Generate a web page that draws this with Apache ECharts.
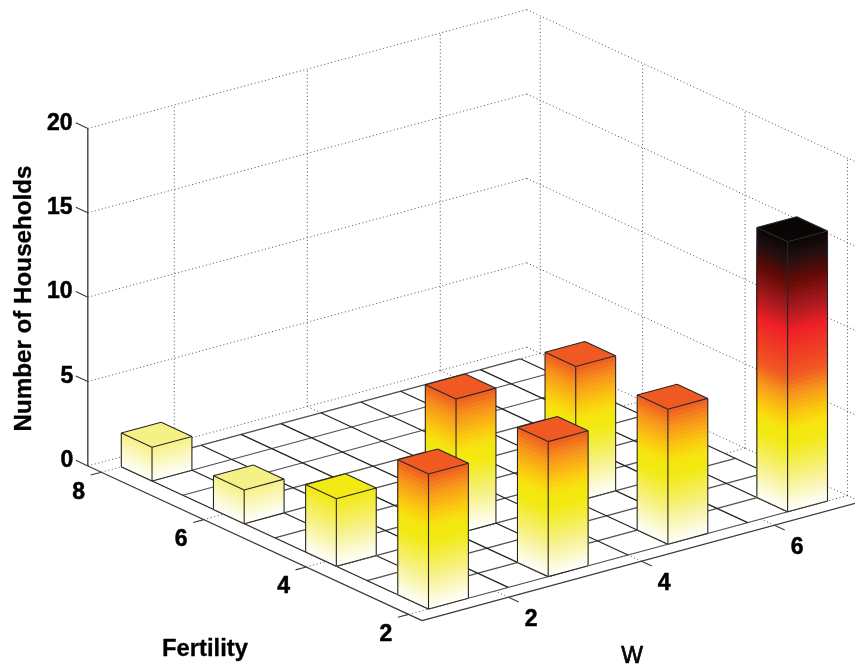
<!DOCTYPE html>
<html>
<head>
<meta charset="utf-8">
<style>html,body{margin:0;padding:0;background:#fff}#c{width:855px;height:668px;filter:blur(0.35px)}</style>
<script src="https://cdn.jsdelivr.net/npm/echarts@6/dist/echarts.min.js"></script>
</head>
<body>
<div id="c"></div>
<script>
// ---- data ----
const barW          = [1.3, 1.3, 1.3, 1.3, 3.1, 4.9, 6.7, 3.1, 4.9];
const barFertility  = [7.7, 5.9, 4.1, 2.3, 2.3, 2.3, 2.3, 4.1, 4.1];
const barHouseholds = [2, 2, 4, 8, 8, 8, 16, 8, 8];
const wTicks = [2, 4, 6];
const fertilityTicks = [2, 4, 6, 8];
const countTicks = [0, 5, 10, 15, 20];
const wLimits = [0.70, 7.30];
const fertilityLimits = [1.736, 8.264];
const countLimits = [0, 20];
const binEdgesW = [1, 1.6, 2.2, 2.8, 3.4, 4, 4.6, 5.2, 5.8, 6.4, 7];
const binEdgesFertility = [2, 2.6, 3.2, 3.8, 4.4, 5, 5.6, 6.2, 6.8, 7.4, 8];
const binWidth = 0.6;
// colormap: count -> colour
const cmapAt = [0, 2, 4, 4.8, 5.7, 7, 8, 10.7, 12, 13.7, 15, 16];
const cmapCol = ['#ffffff', '#f6f186', '#f2ea12', '#f5e610', '#fcc810', '#f7921c', '#f05a22', '#ee2026', '#a81a1e', '#620a06', '#221010', '#0a0605'];

// ---- view: orthographic 3-D projection onto the screen plane ----
const view = {ox: 428.5, oy: 609, wx: 66.5, wy: -18, fx: -51.2, fy: -23.7, zy: -16.875};
function project(w, f, z) {
  const dw = w - 1, df = f - 2;
  return [view.ox + view.wx * dw + view.fx * df, view.oy + view.wy * dw + view.fy * df + view.zy * z];
}
function hex(c) { return [1, 3, 5].map(i => parseInt(c.substr(i, 2), 16)); }
function colorOf(z) {
  for (let i = 1; i < cmapAt.length; i++) {
    if (z <= cmapAt[i]) {
      const t = (z - cmapAt[i - 1]) / (cmapAt[i] - cmapAt[i - 1]);
      const a = hex(cmapCol[i - 1]), b = hex(cmapCol[i]);
      return 'rgb(' + a.map((v, k) => Math.round(v + (b[k] - v) * t)).join(',') + ')';
    }
  }
  return cmapCol[cmapCol.length - 1];
}
const DOT = '#505050', GRID_W = '#222222', GRID_F = '#505050', AXIS = '#3a3a3a';
const line = (a, b, stroke, width, dash) => ({type: 'line', silent: true,
  shape: {x1: a[0], y1: a[1], x2: b[0], y2: b[1]},
  style: {stroke, lineWidth: width, lineDash: dash || null, fill: null}});
const poly = (pts, fill, stroke) => ({type: 'polygon', silent: true, shape: {points: pts},
  style: {fill, stroke: stroke || null, lineWidth: stroke ? 1 : 0, lineJoin: 'round'}});
const FONT = '"Liberation Sans", Arial, sans-serif';
const label = (x, y, text, size, weight, rot, sw) => ({type: 'text', silent: true, x, y, rotation: rot || 0,
  style: {text: String(text), x: 0, y: 0, fontFamily: FONT, fontSize: size, fontWeight: weight,
    fill: '#000', stroke: '#000', lineWidth: sw === undefined ? 0.5 : sw, align: 'center', verticalAlign: 'middle'}});

function renderScene(params, api) {
  const P = (w, f, z) => api.coord(project(w, f, z));
  const [w0, w1] = wLimits, [f0, f1] = fertilityLimits, [z0, z1] = countLimits;
  const kids = [];
  const dash = [1, 2.6];
  countTicks.forEach(z => {
    kids.push(line(P(w0, f1, z), P(w1, f1, z), DOT, 1, dash));
    kids.push(line(P(w1, f1, z), P(w1, f0, z), DOT, 1, dash));
  });
  wTicks.forEach(w => {
    kids.push(line(P(w, f1, z0), P(w, f1, z1), DOT, 1, dash));
    kids.push(line(P(w, f0, z0), P(w, f1, z0), DOT, 1, dash));
  });
  fertilityTicks.forEach(f => {
    kids.push(line(P(w1, f, z0), P(w1, f, z1), DOT, 1, dash));
    kids.push(line(P(w0, f, z0), P(w1, f, z0), DOT, 1, dash));
  });
  // floor mesh
  const wa = binEdgesW[0], wb = binEdgesW[binEdgesW.length - 1];
  const fa = binEdgesFertility[0], fb = binEdgesFertility[binEdgesFertility.length - 1];
  kids.push(poly([P(wa, fa, 0), P(wb, fa, 0), P(wb, fb, 0), P(wa, fb, 0)], '#ffffff'));
  binEdgesFertility.forEach(f => kids.push(line(P(wa, f, 0), P(wb, f, 0), GRID_F, 1.25)));
  binEdgesW.forEach(w => kids.push(line(P(w, fa, 0), P(w, fb, 0), GRID_W, 1.25)));
  // axes
  kids.push(line(P(w0, f1, z0), P(w0, f1, z1), '#222222', 1.2));
  kids.push(line(P(w0, f1, z0), P(w0, f0, z0), AXIS, 1.25));
  kids.push(line(P(w0, f0, z0), P(w1, f0, z0), AXIS, 1.25));
  countTicks.forEach(z => {
    kids.push(line(P(w0, f1, z), P(w0, f1 + 0.235, z), AXIS, 1.1));
    const p = P(w0, f1, z);
    kids.push(label(p[0] - 21 - (String(z).length > 1 ? 7 : 0), p[1] - 5.2, z, 23, 'bold'));
  });
  fertilityTicks.forEach(f => {
    kids.push(line(P(w0, f, z0), P(w0 - 0.16, f, z0), AXIS, 1.1));
    const p = P(w0, f, z0);
    kids.push(label(p[0] - 22.6, p[1] + 20, f, 23, 'bold'));
  });
  wTicks.forEach(w => {
    kids.push(line(P(w, f0, z0), P(w, f0 - 0.2, z0), AXIS, 1.1));
    const p = P(w, f0, z0);
    kids.push(label(p[0] + 22.6, p[1] + 22, w, 23, 'bold'));
  });
  // axis titles
  const a = api.coord([24.5, 298.5]);
  kids.push(label(a[0], a[1], 'Number of Households', 24.2, 'bold', Math.PI / 2, 0.3));
  const b = api.coord([205, 649]);
  kids.push(label(b[0], b[1], 'Fertility', 23.8, 'bold', 0, 0.3));
  const c = api.coord([632, 657]);
  kids.push(label(c[0], c[1], 'W', 23, 'normal', 0, 0.7));
  return {type: 'group', children: kids};
}

function renderBar(params, api) {
  const w = api.value(0), f = api.value(1), h = api.value(2);
  const P = (a, b, z) => api.coord(project(a, b, z));
  const a0 = w - binWidth / 2, a1 = w + binWidth / 2;
  const b0 = f - binWidth / 2, b1 = f + binWidth / 2;
  const kids = [];
  const step = 0.25;
  const n = Math.round(h / step);
  for (let i = n; i > 0; i--) {
    const zt = i * step, col = colorOf(zt - step / 2);
    kids.push(poly([P(a0, b1, 0), P(a0, b0, 0), P(a0, b0, zt), P(a0, b1, zt)], col));
    kids.push(poly([P(a0, b0, 0), P(a1, b0, 0), P(a1, b0, zt), P(a0, b0, zt)], col));
  }
  kids.push(poly([P(a0, b0, h), P(a1, b0, h), P(a1, b1, h), P(a0, b1, h)], colorOf(h)));
  const E = '#262626';
  const edge = (p, q) => kids.push(line(p, q, E, 1.1));
  edge(P(a0, b1, 0), P(a0, b0, 0));
  edge(P(a0, b0, 0), P(a1, b0, 0));
  edge(P(a0, b1, 0), P(a0, b1, h));
  edge(P(a0, b0, 0), P(a0, b0, h));
  edge(P(a1, b0, 0), P(a1, b0, h));
  edge(P(a0, b1, h), P(a0, b0, h));
  edge(P(a0, b0, h), P(a1, b0, h));
  edge(P(a1, b0, h), P(a1, b1, h));
  edge(P(a1, b1, h), P(a0, b1, h));
  return {type: 'group', children: kids};
}

// painter's order: farthest first
const barRows = barW.map((w, i) => [w, barFertility[i], barHouseholds[i]])
  .sort((p, q) => project(p[0], p[1], 0)[1] - project(q[0], q[1], 0)[1]);

const chart = echarts.init(document.getElementById('c'), null, {renderer: 'canvas', width: 855, height: 668});
chart.setOption({
  animation: false,
  backgroundColor: '#ffffff',
  grid: {left: 0, right: 0, top: 0, bottom: 0},
  xAxis: {type: 'value', min: 0, max: 855, show: false},
  yAxis: {type: 'value', min: 0, max: 668, inverse: true, show: false},
  series: [
    {type: 'custom', name: 'scene', coordinateSystem: 'cartesian2d', renderItem: renderScene, data: [[0, 0]], silent: true, z: 1},
    {type: 'custom', name: 'Households', coordinateSystem: 'cartesian2d', renderItem: renderBar, data: barRows,
     encode: {x: 0, y: 1}, silent: true, z: 2}
  ]
});
</script>
</body>
</html>
